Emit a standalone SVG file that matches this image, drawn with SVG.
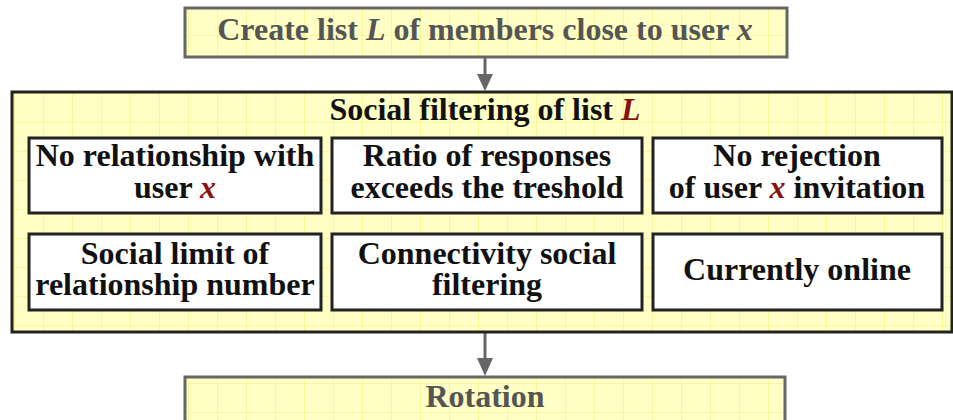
<svg xmlns="http://www.w3.org/2000/svg" width="953" height="420" viewBox="0 0 953 420">
<style>
text{font-family:"Liberation Serif","Times New Roman",serif;font-weight:bold;font-size:32px;text-anchor:middle}
.dark{fill:#111}
.gray{fill:#555}
.red{fill:#8b1010;font-style:italic}
.it{font-style:italic}
.outer{fill:url(#grid);stroke:#222;stroke-width:3}
.ext{fill:url(#grid);stroke:#666;stroke-width:3}
.inner{fill:#fff;stroke:#222;stroke-width:3}
.conn{stroke:#666;stroke-width:3;fill:none}
</style>
<defs>
<pattern id="grid" patternUnits="userSpaceOnUse" x="14" y="6" width="29" height="29">
<rect width="29" height="29" fill="#ffffc6"/>
<path d="M0 0V29M0 0H29" stroke="#f6f07a" stroke-width="1.2"/>
</pattern>
<marker id="arr" markerWidth="16" markerHeight="18" refX="8" refY="17" orient="auto-start-reverse" markerUnits="userSpaceOnUse" viewBox="0 0 16 18">
<path d="M0 0L16 0L8 18Z" fill="#666"/>
</marker>
</defs>
<g id="connectors">
<path class="conn" d="M485 57V75"/>
<path d="M477 74L493 74L485 91Z" fill="#666"/>
<path class="conn" d="M485 333V359"/>
<path d="M477 358L493 358L485 376Z" fill="#666"/>
</g>
<g id="create">
<rect class="ext" x="185" y="8" width="602" height="49"/>
<text x="485" y="40" class="gray">Create list <tspan class="it">L</tspan> of members close to user <tspan class="it">x</tspan></text>
</g>
<g id="social">
<rect class="outer" x="12" y="92" width="940" height="240"/>
<text x="485" y="120" class="dark">Social filtering of list <tspan class="red">L</tspan></text>
</g>
<g id="norel">
<rect class="inner" x="29" y="138" width="292" height="75"/>
<text x="175" y="166" class="dark">No relationship with</text>
<text x="175" y="198" class="dark">user <tspan class="red">x</tspan></text>
</g>
<g id="ratio">
<rect class="inner" x="332" y="138" width="310" height="75"/>
<text x="487" y="166" class="dark">Ratio of responses</text>
<text x="487" y="198" class="dark">exceeds the treshold</text>
</g>
<g id="norej">
<rect class="inner" x="653" y="138" width="289" height="75"/>
<text x="797" y="166" class="dark">No rejection</text>
<text x="797" y="198" class="dark">of user <tspan class="red">x</tspan> invitation</text>
</g>
<g id="limit">
<rect class="inner" x="29" y="234" width="292" height="76"/>
<text x="175" y="264" class="dark">Social limit of</text>
<text x="175" y="295" class="dark">relationship number</text>
</g>
<g id="connect">
<rect class="inner" x="332" y="234" width="310" height="76"/>
<text x="487" y="264" class="dark">Connectivity social</text>
<text x="487" y="295" class="dark">filtering</text>
</g>
<g id="online">
<rect class="inner" x="653" y="234" width="289" height="76"/>
<text x="797" y="280" class="dark">Currently online</text>
</g>
<g id="rotation">
<rect class="ext" x="185" y="377" width="600" height="60"/>
<text x="485" y="407" class="gray">Rotation</text>
</g>
</svg>
